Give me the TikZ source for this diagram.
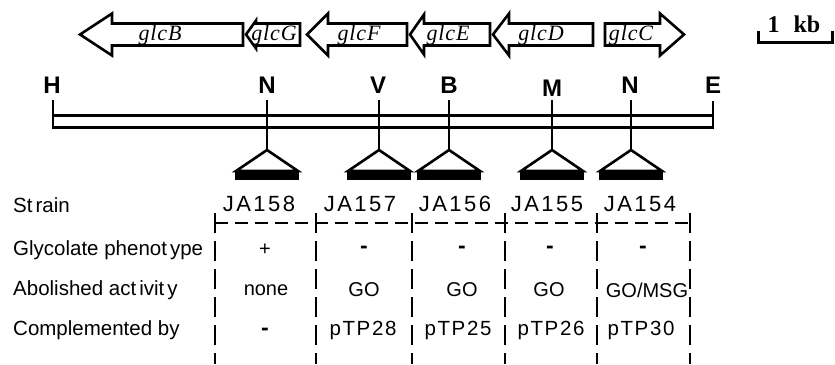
\documentclass[tikz,border=0pt]{standalone}
\usepackage{fontspec}
\setmainfont{Liberation Sans}
\newfontfamily\genefont[LetterSpace=4]{Liberation Serif}
\newfontfamily\spacedsans[LetterSpace=11]{Liberation Sans}
\newfontfamily\cellsans[LetterSpace=8]{Liberation Sans}
\newfontfamily\barfont{Liberation Serif}

\tikzset{
  gene/.style={draw, line width=2.6pt, line join=miter, fill=white},
  genelabel/.style={font=\genefont\itshape\fontsize{22}{22}\selectfont, inner sep=0pt},
  sitelabel/.style={font=\bfseries\fontsize{24}{24}\selectfont, inner sep=0pt},
  mapline/.style={line width=3pt},
  sitetick/.style={line width=2.2pt},
  insertion/.style={draw, line width=2.6pt, line join=miter},
  insertbar/.style={fill=black},
  rowlabel/.style={anchor=west, font=\fontsize{20.5}{20.5}\selectfont, inner sep=0pt},
  strainlabel/.style={font=\spacedsans\fontsize{22}{22}\selectfont, inner sep=0pt},
  cell/.style={font=\fontsize{20}{20}\selectfont, inner sep=0pt},
  spacedcell/.style={font=\cellsans\fontsize{20.5}{20.5}\selectfont, inner sep=0pt},
  minus/.style={font=\bfseries\fontsize{23}{23}\selectfont, inner sep=0pt},
  vgrid/.style={line width=2pt, dash pattern=on 20pt off 8pt},
  hgrid/.style={line width=2pt, dash pattern=on 13pt off 7pt},
  scalebar/.style={line width=3pt, line join=miter}
}

\begin{document}
\begin{tikzpicture}[x=1pt, y=-1pt]
\useasboundingbox (0,0) rectangle (835,364);

% ---- gene arrows (glcB ... glcD point left, glcC points right)
\draw[gene] (80,34.5) -- (112,13.5) -- (112,23.5) -- (243,23.5) -- (243,45.5) -- (112,45.5) -- (112,55.5) -- cycle;
\draw[gene] (246,34.5) -- (256,20.5) -- (256,23.5) -- (300,23.5) -- (300,45.5) -- (256,45.5) -- (256,48.5) -- cycle;
\draw[gene] (307,34.5) -- (328,13.5) -- (328,23.5) -- (407,23.5) -- (407,45.5) -- (328,45.5) -- (328,55.5) -- cycle;
\draw[gene] (410,34.5) -- (424,14.5) -- (424,23.5) -- (490,23.5) -- (490,45.5) -- (424,45.5) -- (424,54.5) -- cycle;
\draw[gene] (493,34.5) -- (509,13.5) -- (509,23.5) -- (593,23.5) -- (593,45.5) -- (509,45.5) -- (509,55.5) -- cycle;
\draw[gene] (605,23.5) -- (660,23.5) -- (660,13.5) -- (684,34.5) -- (660,55.5) -- (660,45.5) -- (605,45.5) -- cycle;

\node[genelabel] (glcB) at (160,35) {glcB};
\node[genelabel] (glcG) at (274,35) {glcG};
\node[genelabel] (glcF) at (359,35) {glcF};
\node[genelabel] (glcE) at (448,35) {glcE};
\node[genelabel] (glcD) at (541,35) {glcD};
\node[genelabel] (glcC) at (631,35) {glcC};

% ---- scale bar
\node[font=\barfont\bfseries\fontsize{24}{24}\selectfont, inner sep=0pt] (kb) at (794,24) {1\hspace{14pt}kb};
\coordinate (sbl) at (758,31);
\coordinate (sbr) at (832,31);
\draw[scalebar] (sbl) -- ++(0,11) -| (sbr);

% ---- restriction map
\node[sitelabel] (H)  at (52,85)  {H};
\node[sitelabel] (N1) at (267,85) {N};
\node[sitelabel] (V)  at (378,85) {V};
\node[sitelabel] (B)  at (449,85) {B};
\node[sitelabel] (M)  at (552,88) {M};
\node[sitelabel] (N2) at (630,85) {N};
\node[sitelabel] (E)  at (713,85) {E};

\draw[mapline] (52,115) -- (713,115);
\draw[mapline] (52,127) -- (713,127);
\draw[sitetick] (53,100) -- (53,128.5);
\draw[sitetick] (713,101) -- (713,128.5);

% insertion sites with their triangles
\foreach \name/\x in {ins158/267, ins157/379, ins156/449, ins155/552, ins154/631}{
  \coordinate (\name-top) at (\x,100);
  \coordinate (\name) at (\x,150);
  \draw[sitetick] (\name-top) -- (\name);
  \fill[insertbar] (\x-32,170) rectangle (\x+32,180);
  \draw[insertion] (\name) -- (\x-31,171) -- (\x+31,171) -- cycle;
}

% ---- table
\node[rowlabel] (rStrain) at (13,205) {St\hspace{3pt}rain};
\node[rowlabel] (rPheno)  at (13,250) {Glycolate phenot\hspace{3pt}ype};
\node[rowlabel] (rAct)    at (13,290) {Abolished act\hspace{3pt}ivit\hspace{3pt}y};
\node[rowlabel] (rComp)   at (13,330) {Complemented by};

\node[strainlabel] (JA158) at (259,204) {JA158};
\node[strainlabel] (JA157) at (360,204) {JA157};
\node[strainlabel] (JA156) at (455,204) {JA156};
\node[strainlabel] (JA155) at (547,204) {JA155};
\node[strainlabel] (JA154) at (640,204) {JA154};

\draw[hgrid] (215,223) -- (690,223);
\foreach \x in {215,316,412,505,597,690}{
  \draw[vgrid] (\x,213) -- (\x,364);
}

\node[cell]  (p158) at (265,250) {+};
\node[minus] (p157) at (364,250) {-};
\node[minus] (p156) at (462,250) {-};
\node[minus] (p155) at (550,250) {-};
\node[minus] (p154) at (643,250) {-};

\node[cell] (a158) at (266,290) {none};
\node[cell] (a157) at (364,290) {GO};
\node[cell] (a156) at (462,290) {GO};
\node[cell] (a155) at (549,290) {GO};
\node[cell] (a154) at (647,290) {GO/MSG};

\node[minus]      (c158) at (265,332) {-};
\node[spacedcell] (c157) at (363,330) {pTP28};
\node[spacedcell] (c156) at (458,330) {pTP25};
\node[spacedcell] (c155) at (551,330) {pTP26};
\node[spacedcell] (c154) at (641,330) {pTP30};
\end{tikzpicture}
\end{document}
